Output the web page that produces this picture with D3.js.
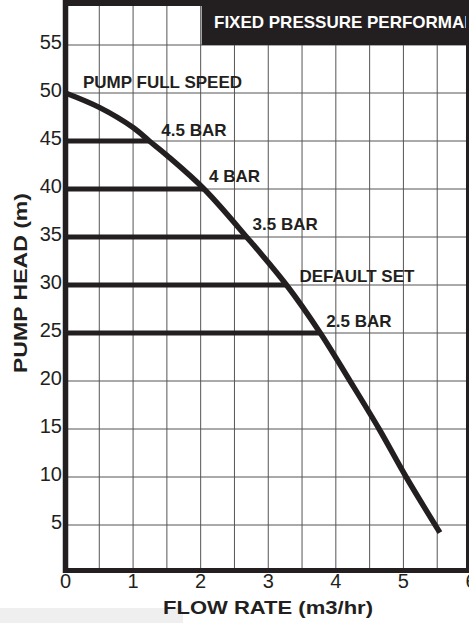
<!DOCTYPE html>
<html><head><meta charset="utf-8">
<script src="https://cdn.jsdelivr.net/npm/d3@7"></script>
<style>
html,body{margin:0;padding:0;background:#fff;overflow:hidden}
svg{display:block;font-family:"Liberation Sans",Arial,sans-serif}
</style></head><body>
<svg id="c" width="469" height="623"></svg>
<script>
// ---- data ----
const curveFlow = [0, 0.5, 1.0, 1.24, 1.5, 2.05, 2.68, 3.27, 3.77, 4.21, 4.64, 5.04, 5.54];
const curveHead = [50, 48.5, 46.4, 45, 43.5, 40, 35, 30, 25, 20, 15, 10, 4.2];
const setHeads = [45, 40, 35, 30, 25];
const setFlows = [1.24, 2.05, 2.68, 3.27, 3.77];
const setLabels = ["4.5 BAR", "4 BAR", "3.5 BAR", "DEFAULT SET", "2.5 BAR"];
const xTicks = [0, 1, 2, 3, 4, 5, 6];
const yTicks = [5, 10, 15, 20, 25, 30, 35, 40, 45, 50, 55];
const title = "FIXED PRESSURE PERFORMANCE";
const xTitle = "FLOW RATE (m3/hr)";
const yTitle = "PUMP HEAD (m)";
const curveLabel = "PUMP FULL SPEED";

// ---- layout ----
const ink = "#231f20";
const labelOffsets = [[12, -5], [5, -7], [6, -7], [13, -3], [6, -6]];
const svg = d3.select("#c");
const x = d3.scaleLinear().domain([0, 6]).range([65.5, 471]);
const y = d3.scaleLinear().domain([0, 55]).range([573, 45]);

// light strip bottom-left
svg.append("rect").attr("x", 0).attr("y", 608).attr("width", 183).attr("height", 15).attr("fill", "#efefef");

// grid
const g = svg.append("g");
const vGrid = d3.range(0.5, 6, 0.5);
g.selectAll("line.v").data(vGrid).join("line")
  .attr("x1", d => x(d)).attr("x2", d => x(d))
  .attr("y1", 0).attr("y2", 573)
  .attr("stroke", "#555").attr("stroke-width", 1);
g.selectAll("line.h").data(yTicks).join("line")
  .attr("x1", x(0)).attr("x2", 469)
  .attr("y1", d => y(d)).attr("y2", d => y(d))
  .attr("stroke", "#555").attr("stroke-width", 1);

// title box
svg.append("rect").attr("x", x(2) + 1).attr("y", 0).attr("width", 469 - x(2)).attr("height", y(55)).attr("fill", ink);
svg.append("text").attr("x", 214).attr("y", 27.5).attr("fill", "#fff")
  .attr("font-size", 17).attr("font-weight", "bold").text(title);

// set-point bars
svg.selectAll("line.bar").data(setHeads).join("line")
  .attr("x1", x(0)).attr("x2", (d, i) => x(setFlows[i]))
  .attr("y1", d => y(d)).attr("y2", d => y(d))
  .attr("stroke", ink).attr("stroke-width", 5);

// pump curve
const pts = curveFlow.map((f, i) => [f, curveHead[i]]);
const line = d3.line().x(d => x(d[0])).y(d => y(d[1])).curve(d3.curveCatmullRom.alpha(0.5));
svg.append("path").attr("d", line(pts)).attr("fill", "none")
  .attr("stroke", ink).attr("stroke-width", 5.5).attr("stroke-linecap", "butt");

// labels
svg.append("text").attr("x", 83).attr("y", 88).attr("fill", ink)
  .attr("font-size", 17).attr("font-weight", "bold").text(curveLabel);
svg.selectAll("text.set").data(setLabels).join("text")
  .attr("x", (d, i) => x(setFlows[i]) + labelOffsets[i][0])
  .attr("y", (d, i) => y(setHeads[i]) + labelOffsets[i][1])
  .attr("fill", ink).attr("font-size", 17).attr("font-weight", "bold").text(d => d);

// frame
svg.append("line").attr("x1", 65.5).attr("x2", 65.5).attr("y1", 0).attr("y2", 573).attr("stroke", ink).attr("stroke-width", 5.5);
svg.append("line").attr("x1", 63).attr("x2", 469).attr("y1", 570.5).attr("y2", 570.5).attr("stroke", ink).attr("stroke-width", 5);
svg.append("line").attr("x1", 63).attr("x2", 469).attr("y1", 3).attr("y2", 3).attr("stroke", ink).attr("stroke-width", 6);
svg.append("line").attr("x1", 468.5).attr("x2", 468.5).attr("y1", 0).attr("y2", 573).attr("stroke", ink).attr("stroke-width", 5);

// axes tick labels
svg.selectAll("text.yt").data(yTicks).join("text")
  .attr("x", 62).attr("y", d => y(d) + 3.5).attr("text-anchor", "end")
  .attr("fill", ink).attr("font-size", 20).text(d => d);
svg.selectAll("text.xt").data(xTicks).join("text")
  .attr("x", d => x(d)).attr("y", 588).attr("text-anchor", "middle")
  .attr("fill", ink).attr("font-size", 20).text(d => d);

// axis titles
svg.append("text").attr("x", 268).attr("y", 614).attr("text-anchor", "middle")
  .attr("fill", ink).attr("font-size", 18).attr("font-weight", "bold")
  .attr("textLength", 210).attr("lengthAdjust", "spacingAndGlyphs").text(xTitle);
svg.append("text").attr("transform", "translate(27,283) rotate(-90)").attr("text-anchor", "middle")
  .attr("fill", ink).attr("font-size", 18).attr("font-weight", "bold")
  .attr("textLength", 180).attr("lengthAdjust", "spacingAndGlyphs").text(yTitle);
</script>
</body></html>
